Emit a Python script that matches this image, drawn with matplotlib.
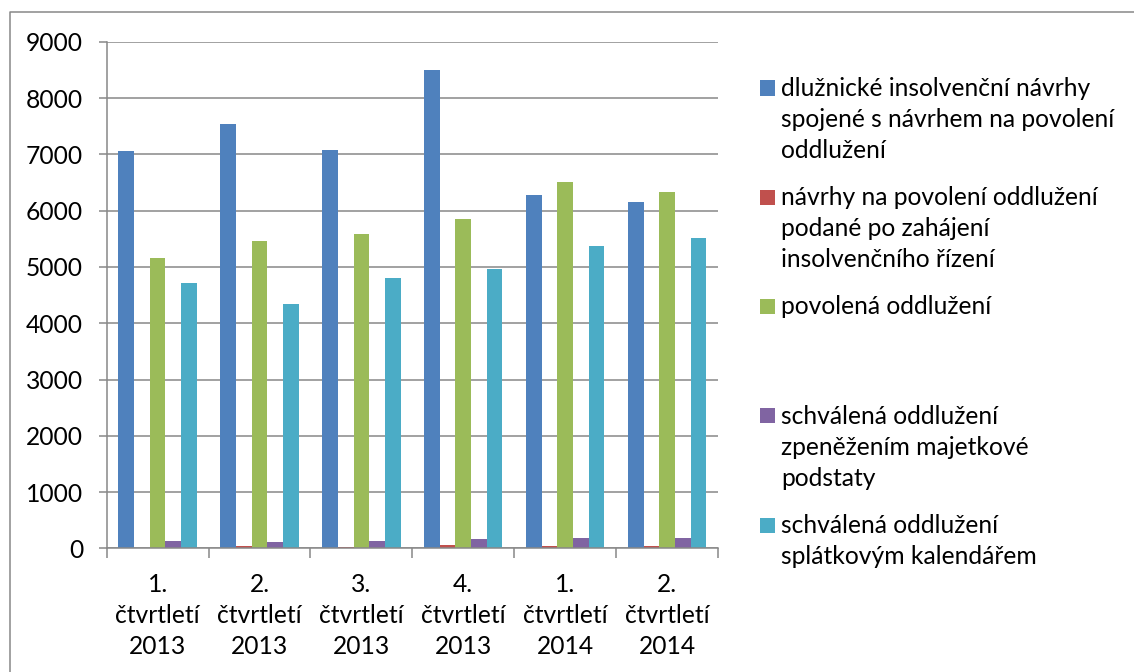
import matplotlib
matplotlib.use("Agg")
import matplotlib.pyplot as plt
from matplotlib.patches import Rectangle
from matplotlib.lines import Line2D
import numpy as np

plt.rcParams['font.family'] = ['Lato', 'DejaVu Sans']

categories = ["1.\nčtvrtletí\n2013", "2.\nčtvrtletí\n2013", "3.\nčtvrtletí\n2013",
              "4.\nčtvrtletí\n2013", "1.\nčtvrtletí\n2014", "2.\nčtvrtletí\n2014"]
series_names = [
    "dlužnické insolvenční návrhy\nspojené s návrhem na povolení\noddlužení",
    "návrhy na povolení oddlužení\npodané po zahájení\ninsolvenčního řízení",
    "povolená oddlužení",
    "schválená oddlužení\nzpeněžením majetkové\npodstaty",
    "schválená oddlužení\nsplátkovým kalendářem",
]
dluznicke = [7050, 7530, 7070, 8500, 6280, 6150]
navrhy_po = [15, 35, 25, 55, 40, 50]
povolena = [5160, 5460, 5580, 5850, 6500, 6330]
zpenezeni = [130, 110, 125, 160, 185, 190]
splatkovy = [4710, 4340, 4800, 4960, 5380, 5510]
series_values = [dluznicke, navrhy_po, povolena, zpenezeni, splatkovy]
colors = ["#4F81BD", "#C0504D", "#9BBB59", "#8064A2", "#4BACC6"]
yticks = [0, 1000, 2000, 3000, 4000, 5000, 6000, 7000, 8000, 9000]

FS = 17.7
LS = 1.42
W, H = 1134, 672
fig = plt.figure(figsize=(W / 100, H / 100), dpi=100)
left, right, top, bottom = 106.7, 718, 41.7, 548.4
ax = fig.add_axes([left / W, 1 - bottom / H, (right - left) / W, (bottom - top) / H])

n = len(series_values)
bw = 1 / (n + 1.5)
x = np.arange(len(categories))
for k, (vals, col) in enumerate(zip(series_values, colors)):
    ax.bar(x + (k - (n - 1) / 2) * bw, vals, width=bw, color=col, zorder=3,
           edgecolor="none")

grey = "#888888"
ax.set_xlim(-0.5, len(categories) - 0.5)
ax.set_ylim(0, 9000)
ax.set_yticks(yticks)
ax.set_yticklabels([str(v) for v in yticks])
ax.yaxis.grid(True, color=grey, linewidth=1.1, zorder=0)
for s in ["top", "right"]:
    ax.spines[s].set_visible(False)
for s in ["left", "bottom"]:
    ax.spines[s].set_color(grey)
    ax.spines[s].set_linewidth(1.1)
    ax.spines[s].set_zorder(4)

ax.tick_params(axis="y", direction="out", length=6, width=1.1, color=grey,
               labelsize=FS, pad=11)
ax.set_xticks(x)
ax.set_xticklabels(categories, fontsize=FS, linespacing=LS)
ax.set_xticks(np.arange(-0.5, len(categories)), minor=True)
ax.tick_params(axis="x", which="major", length=0, pad=18)
ax.tick_params(axis="x", which="minor", direction="out", length=7, width=1.1, color=grey)

# legend drawn as Excel lays it out: equally spaced entries, top-aligned
leg_top = 88
leg_step = 109.25
for k, (name, col) in enumerate(zip(series_names, colors)):
    yc = leg_top + k * leg_step
    fig.add_artist(Rectangle((760 / W, 1 - (yc + 7.5) / H), 15 / W, 15 / H,
                             transform=fig.transFigure, color=col, lw=0))
    fig.text(781 / W, 1 - (yc - 11) / H, name, fontsize=FS, va="top", ha="left",
             linespacing=LS)

# outer chart border (top and left visible)
fig.add_artist(Line2D([10 / W, 10 / W, 1.0], [0.0, 1 - 12 / H, 1 - 12 / H],
                      transform=fig.transFigure, color=grey, lw=1.1))

fig.savefig("out.png", dpi=100)
